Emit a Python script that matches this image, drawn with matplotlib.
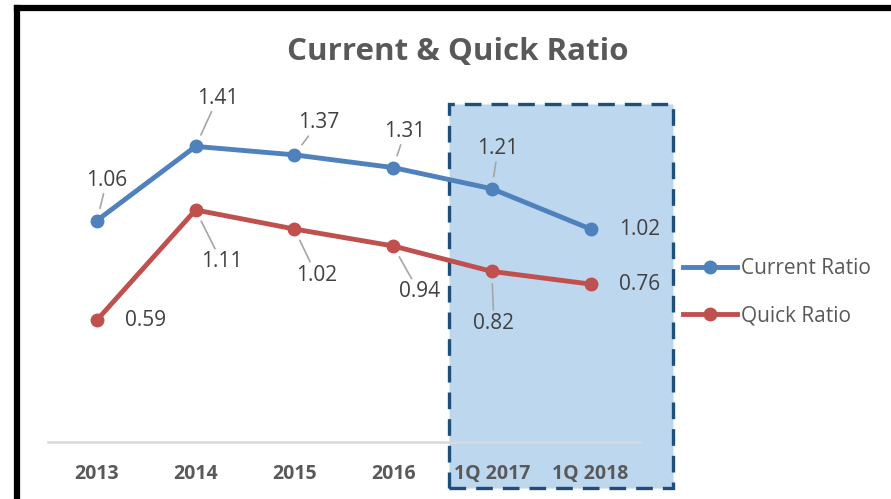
import matplotlib.pyplot as plt
from matplotlib.patches import Rectangle
from matplotlib.lines import Line2D

plt.rcParams['font.family'] = ['Open Sans', 'DejaVu Sans']

periods = ["2013", "2014", "2015", "2016", "1Q 2017", "1Q 2018"]
current = [1.06, 1.41, 1.37, 1.31, 1.21, 1.02]
quick = [0.59, 1.11, 1.02, 0.94, 0.82, 0.76]

# label offsets in pixels (dx, dy), leader line drawn when lead=True
cur_off = [(10, 40, True), (22, 48, True), (24, 32, True), (12, 36, True), (6, 40, True), (49, 0, False)]
qk_off = [(49, 0, False), (26, -52, True), (22, -46, True), (26, -46, True), (2, -52, True), (49, 0, False)]

blue = "#4F81BD"
red = "#C0504D"
gray_txt = "#404040"

fig = plt.figure(figsize=(8.91, 4.99), dpi=100)
W, H = 891, 499

# highlight box behind the last two periods
fig.patches.append(Rectangle((449 / W, 1 - 488 / H), 224 / W, 384 / H,
                             transform=fig.transFigure, facecolor="#BDD7EE",
                             edgecolor="#1F4E79", linewidth=2.4,
                             linestyle=(0, (5, 3)), zorder=-1))

# black frame lines on top and left
fig.add_artist(Line2D([17 / W, 17 / W], [0, 1 - 8 / H], color="black", lw=4.5,
                      transform=fig.transFigure))
fig.add_artist(Line2D([17 / W, 1], [1 - 8 / H, 1 - 8 / H], color="black", lw=4.5,
                      transform=fig.transFigure))

ax = fig.add_axes([47.5 / W, 1 - 442 / H, (640 - 47.5) / W, (442 - 104) / H])
ax.patch.set_visible(False)
x = list(range(len(periods)))
ax.plot(x, current, color=blue, lw=3.5, marker="o", ms=9, label="Current Ratio", zorder=3)
ax.plot(x, quick, color=red, lw=3.5, marker="o", ms=9, label="Quick Ratio", zorder=3)
ax.set_xlim(-0.5, 5.5)
ax.set_ylim(0.015, 1.61)

for series, offs in ((current, cur_off), (quick, qk_off)):
    for xi, v, (dx, dy, lead) in zip(x, series, offs):
        ax.annotate(f"{v:.2f}", (xi, v), xytext=(dx * 0.72, dy * 0.72),
                    textcoords="offset points", ha="center", va="center",
                    fontsize=15, color=gray_txt,
                    arrowprops=dict(arrowstyle="-", color="#A6A6A6", lw=1.2,
                                    shrinkA=0, shrinkB=9) if lead else None)

for s in ("top", "right", "left"):
    ax.spines[s].set_visible(False)
ax.spines["bottom"].set_color("#D9D9D9")
ax.spines["bottom"].set_linewidth(1.8)
ax.set_yticks([])
ax.set_xticks(x)
ax.set_xticklabels(periods, fontsize=14, fontweight="bold", color="#595959")
ax.tick_params(axis="x", length=0, pad=16)

fig.text(458 / W, 1 - 52 / H, "Current & Quick Ratio", ha="center", va="center",
         fontsize=22.5, fontweight="bold", color="#595959")

ax.legend(loc="center left", bbox_to_anchor=(664 / W, 1 - 292 / H),
          bbox_transform=fig.transFigure, frameon=False, fontsize=15,
          labelcolor="#595959", handlelength=2.6, handletextpad=0.2, labelspacing=1.25)

fig.savefig("out.png", dpi=100)
